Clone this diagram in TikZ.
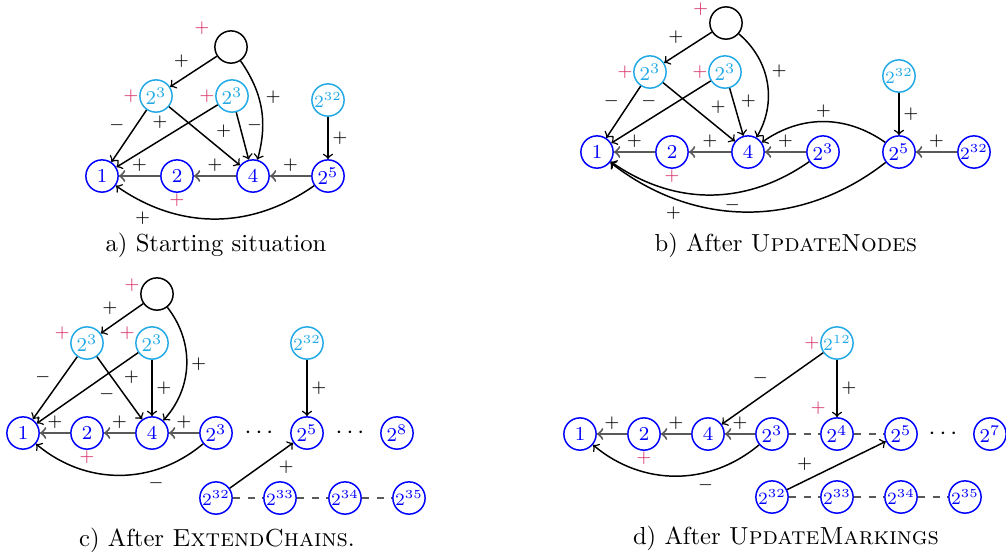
\documentclass[tikz,border=0pt]{standalone}

\definecolor{lightnode}{RGB}{35,170,230}
\definecolor{markred}{RGB}{215,50,105}

\begin{document}
\begin{tikzpicture}[
    x=0.1426mm, y=0.1426mm, % one unit is one pixel of the layout
    ->, % Arrow style
    > = to, % arrow head style
    semithick, % line style
    auto
  ]

  \tikzstyle{bnode}=[circle,draw=blue,text=blue,minimum size=4.6mm,inner sep=0pt,font=\footnotesize]
  \tikzstyle{cnode}=[bnode,draw=lightnode,text=lightnode]
  \tikzstyle{rootnode}=[bnode,draw=black]
  \tikzstyle{wide}=[font=\scriptsize] % two-digit exponents
  \tikzstyle{mk}=[text=markred,font=\scriptsize,inner sep=0pt]
  \tikzstyle{sgn}=[font=\scriptsize,inner sep=1.5pt,text=black]
  \tikzstyle{mainedge}=[line width=0.8pt,black!65]
  \tikzstyle{dashline}=[-,dashed,line width=0.8pt,black!65]
  \tikzstyle{dotsnode}=[font=\normalsize]
  \tikzstyle{capt}=[font=\normalsize]

  \useasboundingbox (0,0) rectangle (1006,-556);

  % a) starting situation
  \node[rootnode] (aR) at (231,-47) [label={[mk,label distance=1mm]150:$+$}] {};
  \node[cnode] (aL) at (156,-96) [label={[mk]180:$+$}] {$2^3$};
  \node[cnode] (aM) at (232,-96) [label={[mk]180:$+$}] {$2^3$};
  \node[cnode,wide] (aC) at (328,-100) {$2^{32}$};
  \node[bnode] (a1) at (102,-176) {$1$};
  \node[bnode] (a2) at (177,-176) [label={[mk]below:$+$}] {$2$};
  \node[bnode] (a4) at (253,-176) {$4$};
  \node[bnode] (a5) at (328,-176) {$2^5$};

  \path (aR) edge node[sgn,swap] {$+$} (aL);
  \path (aR) edge [bend left=25] node[sgn] {$+$} (a4);
  \path (aL) edge node[sgn,swap] {$-$} (a1);
  \path (aM) edge node[sgn,swap,pos=0.45] {$+$} (a1);
  \path (aL) edge node[sgn,pos=0.6] {$+$} (a4);
  \path (aM) edge node[sgn] {$-$} (a4);
  \path (aC) edge node[sgn] {$+$} (a5);
  \path (a2) edge [mainedge] node[sgn,swap] {$+$} (a1);
  \path (a4) edge [mainedge] node[sgn,swap] {$+$} (a2);
  \path (a5) edge [mainedge] node[sgn,swap] {$+$} (a4);
  \path (a5) edge [bend left=35] node[sgn,pos=0.8] {$+$} (a1);

  \node[capt] (capa) at (216,-245) {a) Starting situation};

  % b) after UpdateNodes
  \node[rootnode] (bR) at (726,-23) [label={[mk,label distance=0.2mm]158:$+$}] {};
  \node[cnode] (bL) at (650,-72) [label={[mk]180:$+$}] {$2^3$};
  \node[cnode] (bM) at (725,-72) [label={[mk]180:$+$}] {$2^3$};
  \node[cnode,wide] (bC) at (899,-76) {$2^{32}$};
  \node[bnode] (b1) at (597,-152) {$1$};
  \node[bnode] (b2) at (672,-152) [label={[mk]below:$+$}] {$2$};
  \node[bnode] (b4) at (748,-152) {$4$};
  \node[bnode] (b3) at (823,-152) {$2^3$};
  \node[bnode] (b5) at (899,-152) {$2^5$};
  \node[bnode,wide] (b32) at (974,-152) {$2^{32}$};

  \path (bR) edge node[sgn,swap] {$+$} (bL);
  \path (bR) edge [bend left=40] node[sgn] {$+$} (b4);
  \path (bL) edge node[sgn,swap] {$-$} (b1);
  \path (bM) edge node[sgn,swap] {$-$} (b1);
  \path (bL) edge node[sgn,pos=0.6] {$+$} (b4);
  \path (bM) edge node[sgn] {$+$} (b4);
  \path (bC) edge node[sgn] {$+$} (b5);
  \path (b2) edge [mainedge] node[sgn,swap] {$+$} (b1);
  \path (b4) edge [mainedge] node[sgn,swap] {$+$} (b2);
  \path (b3) edge [mainedge] node[sgn,swap] {$+$} (b4);
  \path (b32) edge [mainedge] node[sgn,swap] {$+$} (b5);
  \path (b5) edge [bend right=35] node[sgn,swap] {$+$} (b4);
  \path (b3) edge [bend left=35] node[sgn,pos=0.45] {$-$} (b1);
  \path (b5) edge [bend left=38] node[sgn,pos=0.72] {$+$} (b1);

  \node[capt] (capb) at (786,-245) {b) After \textsc{UpdateNodes}};

  % c) after ExtendChains
  \node[rootnode] (cR) at (157,-294) [label={[mk]175:$+$}] {};
  \node[cnode] (cL) at (87,-343) [label={[mk]170:$+$}] {$2^3$};
  \node[cnode] (cM) at (152,-343) [label={[mk]170:$+$}] {$2^3$};
  \node[cnode,wide] (cC) at (307,-343) {$2^{32}$};
  \node[bnode] (c1) at (23,-433) {$1$};
  \node[bnode] (c2) at (87,-433) [label={[mk]below:$+$}] {$2$};
  \node[bnode] (c4) at (152,-433) {$4$};
  \node[bnode] (c3) at (216,-433) {$2^3$};
  \node[dotsnode] (cd1) at (259,-433) {$\cdotp\cdotp\cdotp$};
  \node[bnode] (c5) at (307,-433) {$2^5$};
  \node[dotsnode] (cd2) at (350,-433) {$\cdotp\cdotp\cdotp$};
  \node[bnode] (c8) at (397,-433) {$2^8$};
  \node[bnode,wide] (c32) at (216,-498) {$2^{32}$};
  \node[bnode,wide] (c33) at (280,-498) {$2^{33}$};
  \node[bnode,wide] (c34) at (345,-498) {$2^{34}$};
  \node[bnode,wide] (c35) at (409,-498) {$2^{35}$};

  \path (cR) edge node[sgn,swap] {$+$} (cL);
  \path (cR) edge [bend left=40] node[sgn] {$+$} (c4);
  \path (cL) edge node[sgn,swap] {$-$} (c1);
  \path (cM) edge node[sgn,pos=0.43] {$-$} (c1);
  \path (cL) edge node[sgn] {$+$} (c4);
  \path (cM) edge node[sgn] {$+$} (c4);
  \path (cC) edge node[sgn] {$+$} (c5);
  \path (c2) edge [mainedge] node[sgn,swap] {$+$} (c1);
  \path (c4) edge [mainedge] node[sgn,swap] {$+$} (c2);
  \path (c3) edge [mainedge] node[sgn,swap] {$+$} (c4);
  \path (c3) edge [bend left=40] node[sgn,pos=0.36] {$-$} (c1);
  \path (c32) edge node[sgn,swap,pos=0.7] {$+$} (c5);
  \path (c32) edge [dashline] (c33);
  \path (c33) edge [dashline] (c34);
  \path (c34) edge [dashline] (c35);

  \node[capt] (capc) at (217,-540) {c) After \textsc{ExtendChains}.};

  % d) after UpdateMarkings
  \node[cnode,wide] (dC) at (837,-343) [label={[mk]180:$+$}] {$2^{12}$};
  \node[bnode] (d1) at (580,-434) {$1$};
  \node[bnode] (d2) at (644,-434) [label={[mk]below:$+$}] {$2$};
  \node[bnode] (d4) at (708,-434) {$4$};
  \node[bnode] (d3) at (772,-434) {$2^3$};
  \node[bnode] (d24) at (837,-434) [label={[mk,label distance=0.6mm]120:$+$}] {$2^4$};
  \node[bnode] (d25) at (901,-434) {$2^5$};
  \node[dotsnode] (dd1) at (943,-434) {$\cdotp\cdotp\cdotp$};
  \node[bnode] (d27) at (990,-434) {$2^7$};
  \node[bnode,wide] (d32) at (772,-497) {$2^{32}$};
  \node[bnode,wide] (d33) at (837,-497) {$2^{33}$};
  \node[bnode,wide] (d34) at (901,-497) {$2^{34}$};
  \node[bnode,wide] (d35) at (965,-497) {$2^{35}$};

  \path (dC) edge node[sgn,swap] {$-$} (d4);
  \path (dC) edge node[sgn] {$+$} (d24);
  \path (d2) edge [mainedge] node[sgn,swap] {$+$} (d1);
  \path (d4) edge [mainedge] node[sgn,swap] {$+$} (d2);
  \path (d3) edge [mainedge] node[sgn,swap] {$+$} (d4);
  \path (d3) edge [bend left=40] node[sgn,pos=0.4] {$-$} (d1);
  \path (d32) edge node[sgn,pos=0.3] {$+$} (d25);
  \path (d3) edge [dashline] (d24);
  \path (d24) edge [dashline] (d25);
  \path (d32) edge [dashline] (d33);
  \path (d33) edge [dashline] (d34);
  \path (d34) edge [dashline] (d35);

  \node[capt] (capd) at (786,-538) {d) After \textsc{UpdateMarkings}};

\end{tikzpicture}
\end{document}
